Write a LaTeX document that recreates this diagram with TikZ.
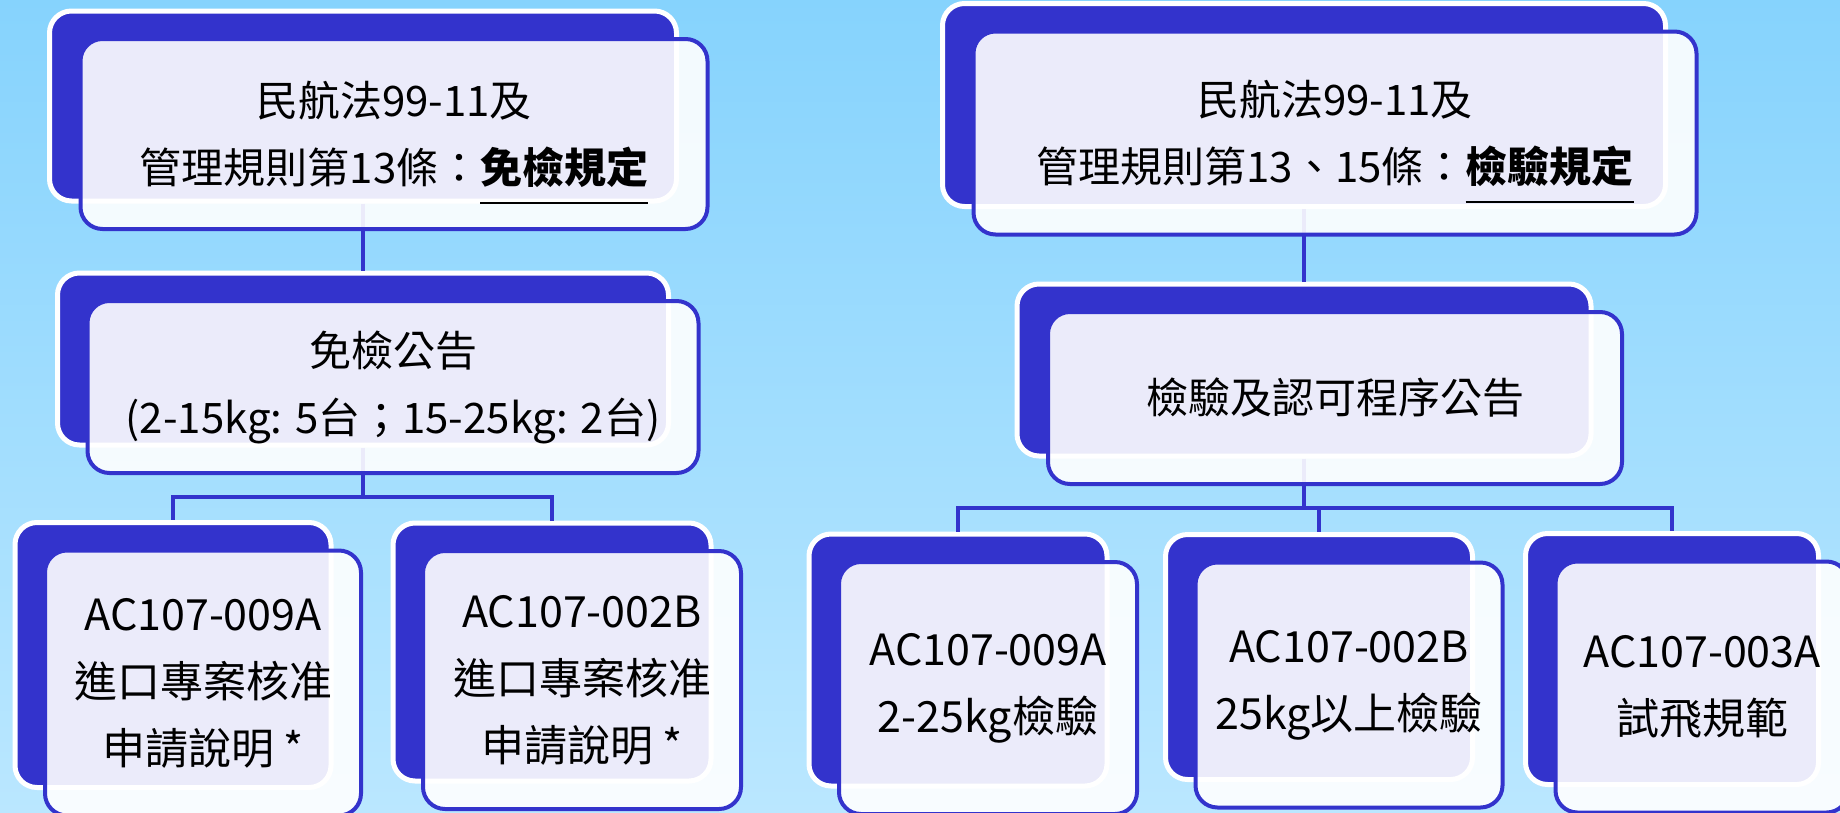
\documentclass[tikz,border=0pt]{standalone}
\usepackage{fontspec}
\newfontfamily\cjk{Noto Sans CJK TC}
\usepackage{tikz}
\usepackage{xcolor}
\definecolor{boxblue}{HTML}{3333CC}
\definecolor{skytop}{HTML}{86D3FD}
\definecolor{skybot}{HTML}{BAE7FF}
\newcommand{\ulbold}[1]{\smash{\setbox0\hbox{\textbf{#1}}\rlap{\rule[-21pt]{\wd0}{2.5pt}}\box0}}

\begin{document}
\begin{tikzpicture}[x=1pt,y=-1pt]
  \tikzset{backbox/.style = {draw=white, line width=5pt, fill=boxblue, rounded corners=22pt, inner sep=0pt}}
  \tikzset{frontbox/.style = {draw=boxblue, line width=4pt, fill=white, fill opacity=0.9, text opacity=1, rounded corners=22pt, inner sep=0pt, align=center, font=\cjk\fontsize{42}{67}\selectfont}}
  \tikzset{leafbox/.style = {frontbox, font=\cjk\fontsize{43}{67}\selectfont}}
  \tikzset{link/.style = {draw=boxblue, line width=4pt}}

  \useasboundingbox (0,0) rectangle (1840,812);
  \shade[top color=skytop, bottom color=skybot] (0,0) rectangle (1840,812);

  % back plates
  \node[backbox, minimum width=627pt, minimum height=190pt] (lawbk) at (363,106) {};
  \node[backbox, minimum width=611pt, minimum height=172pt] (exemptbk) at (363,359) {};
  \node[backbox, minimum width=316pt, minimum height=265pt] (labk) at (173,655) {};
  \node[backbox, minimum width=318pt, minimum height=258pt] (lbbk) at (552,652) {};
  \node[backbox, minimum width=723pt, minimum height=203pt] (rulebk) at (1304,105) {};
  \node[backbox, minimum width=574pt, minimum height=172pt] (procbk) at (1304,370) {};
  \node[backbox, minimum width=298pt, minimum height=252pt] (rabk) at (958,660) {};
  \node[backbox, minimum width=307pt, minimum height=245pt] (rbbk) at (1319,657) {};
  \node[backbox, minimum width=293pt, minimum height=251pt] (rcbk) at (1672,659) {};

  % connectors
  \coordinate (lj) at (363,497);
  \coordinate (rj) at (1304,508);
  \foreach \from/\to in {lawbk/exemptbk, rulebk/procbk}
    \draw[link] (\from.south) -- (\to.north);
  \draw[link] (exemptbk.south) -- (lj);
  \draw[link] (procbk.south) -- (rj);
  \foreach \to in {labk, lbbk}
    \draw[link] (lj) -| (\to.north);
  \foreach \to in {rabk, rbbk, rcbk}
    \draw[link] (rj) -| (\to.north);

  % front cards
  \node[frontbox, minimum width=627pt, minimum height=190pt] (law) at (394,134)
    {民航法99-11及\\管理規則第13條：\ulbold{免檢規定}};
  \node[frontbox, minimum width=611pt, minimum height=172pt] (exempt) at (393,387)
    {免檢公告\\(2-15kg: 5台；15-25kg: 2台)};
  \node[leafbox, minimum width=316pt, minimum height=265pt] (la) at (203,683)
    {AC107-009A\\進口專案核准\\申請說明 *};
  \node[leafbox, minimum width=318pt, minimum height=258pt] (lb) at (582,680)
    {AC107-002B\\進口專案核准\\申請說明 *};
  \node[frontbox, minimum width=723pt, minimum height=203pt] (rule) at (1335,133)
    {民航法99-11及\\管理規則第13、15條：\ulbold{檢驗規定}};
  \node[frontbox, minimum width=574pt, minimum height=172pt] (proc) at (1335,398)
    {檢驗及認可程序公告};
  \node[leafbox, minimum width=298pt, minimum height=252pt] (ra) at (988,688)
    {AC107-009A\\2-25kg檢驗};
  \node[leafbox, minimum width=307pt, minimum height=245pt] (rb) at (1349,685)
    {AC107-002B\\25kg以上檢驗};
  \node[leafbox, minimum width=293pt, minimum height=251pt] (rc) at (1702,687)
    {AC107-003A\\試飛規範};
\end{tikzpicture}
\end{document}
